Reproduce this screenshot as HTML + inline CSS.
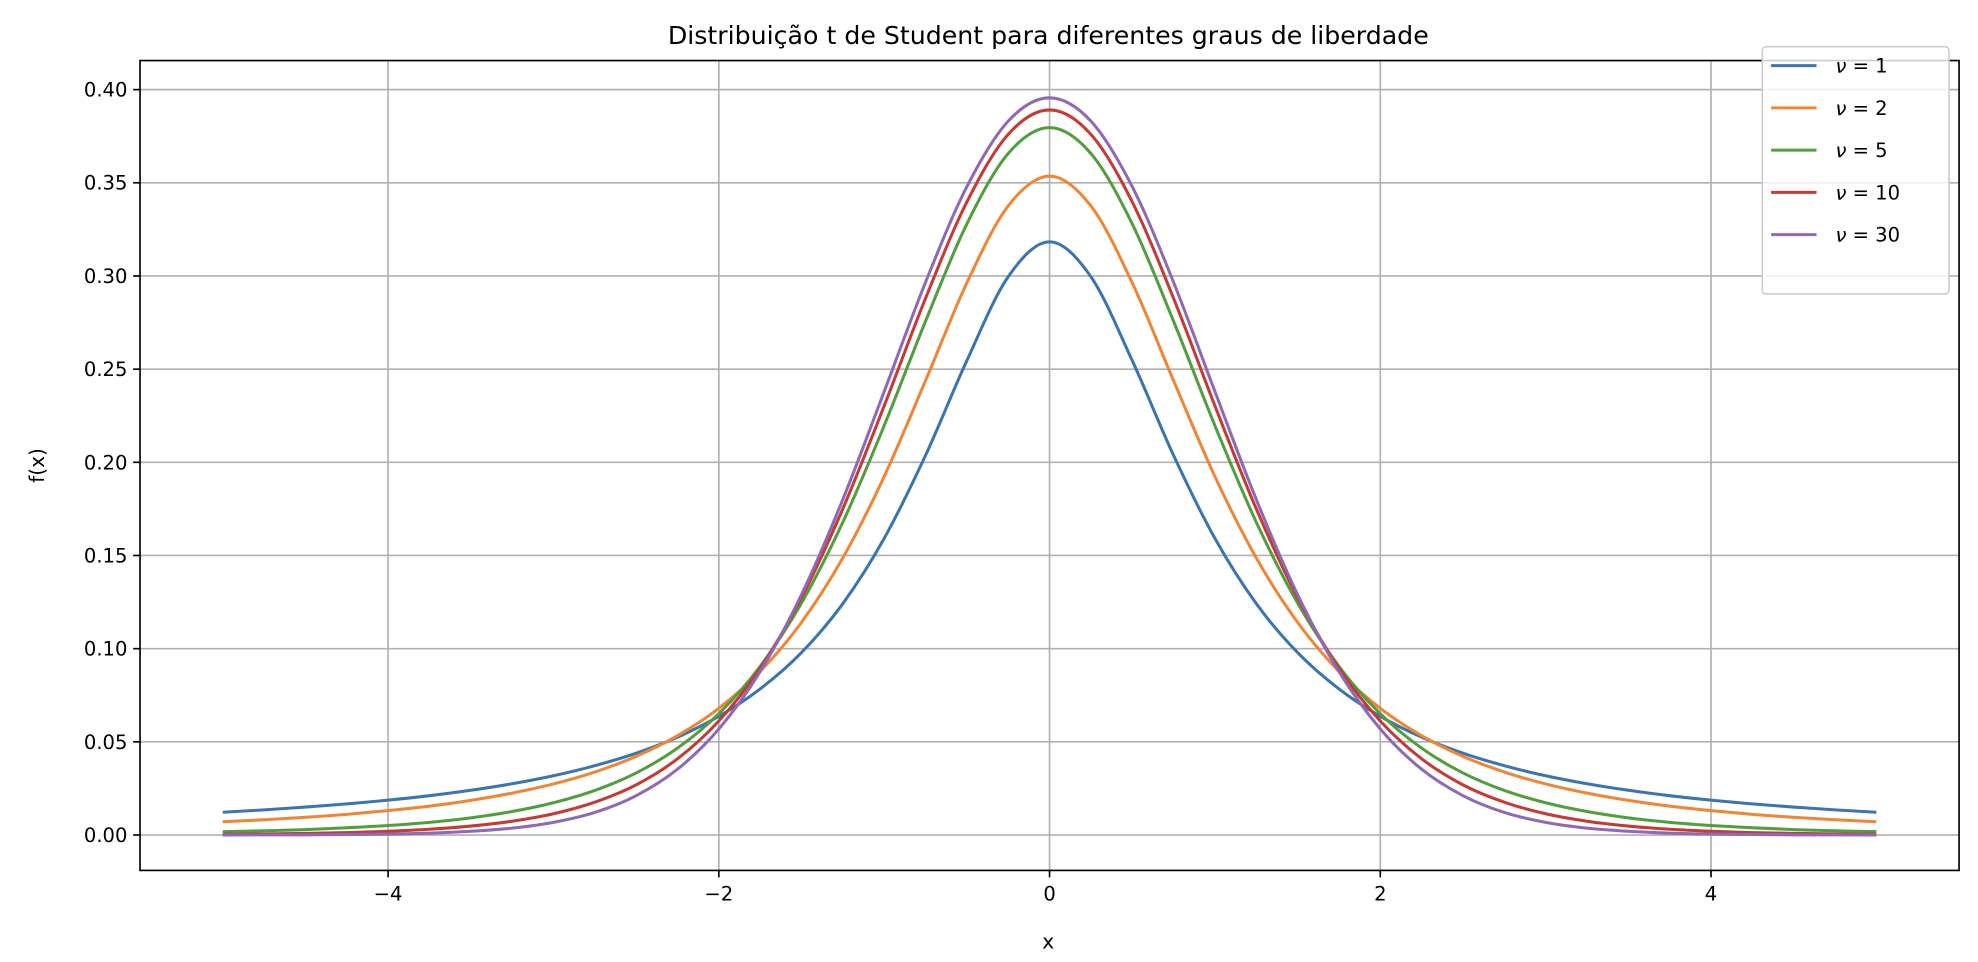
<!DOCTYPE html>
<html><head><meta charset="utf-8"><style>
html,body{margin:0;padding:0;background:#fff;}
svg{display:block;font-family:"DejaVu Sans","Liberation Sans",sans-serif;}
</style></head><body>
<svg id="chart" width="1978" height="962" viewBox="0 0 1568 762.6">
<rect x="0" y="0" width="1568" height="762.6" fill="#fff"/>
<text x="831" y="35" text-anchor="middle" font-size="20" fill="#000">Distribuição t de Student para diferentes graus de liberdade</text>
<g id="grid"></g>
<g id="series"></g>
<rect x="111" y="48" width="1442" height="642" fill="none" stroke="#000" stroke-width="1.3"/>
<g id="ticks"></g>
<text x="831" y="752" text-anchor="middle" font-size="16">x</text>
<text transform="translate(35,369) rotate(-90)" text-anchor="middle" font-size="16">f(x)</text>
<g id="legend"></g>
</svg>
<script>
const xValues = [-5,-4.75,-4.5,-4.25,-4,-3.75,-3.5,-3.25,-3,-2.75,-2.5,-2.25,-2,-1.75,-1.5,-1.25,-1,-0.75,-0.5,-0.25,0,0.25,0.5,0.75,1,1.25,1.5,1.75,2,2.25,2.5,2.75,3,3.25,3.5,3.75,4,4.25,4.5,4.75,5];
const nu1 = [.0122,.0135,.0150,.0167,.0187,.0211,.0240,.0275,.0318,.0372,.0439,.0525,.0637,.0784,.0979,.1242,.1592,.2037,.2546,.2996,.3183,.2996,.2546,.2037,.1592,.1242,.0979,.0784,.0637,.0525,.0439,.0372,.0318,.0275,.0240,.0211,.0187,.0167,.0150,.0135,.0122];
const nu2 = [.0071,.0082,.0095,.0111,.0131,.0155,.0186,.0225,.0274,.0338,.0422,.0533,.0680,.0878,.1141,.1487,.1924,.2438,.2963,.3376,.3536,.3376,.2963,.2438,.1924,.1487,.1141,.0878,.0680,.0533,.0422,.0338,.0274,.0225,.0186,.0155,.0131,.0111,.0095,.0082,.0071];
const nu5 = [.0018,.0023,.0029,.0039,.0051,.0068,.0092,.0126,.0173,.0239,.0333,.0466,.0651,.0905,.1245,.1679,.2197,.2757,.3279,.3657,.3796,.3657,.3279,.2757,.2197,.1679,.1245,.0905,.0651,.0466,.0333,.0239,.0173,.0126,.0092,.0068,.0051,.0039,.0029,.0023,.0018];
const nu10 = [.0004,.0006,.0009,.0013,.0020,.0031,.0048,.0074,.0114,.0176,.0269,.0409,.0612,.0895,.1274,.1751,.2303,.2880,.3397,.3760,.3891,.3760,.3397,.2880,.2303,.1751,.1274,.0895,.0612,.0409,.0269,.0176,.0114,.0074,.0048,.0031,.0020,.0013,.0009,.0006,.0004];
const nu30 = [.0000,.0001,.0001,.0003,.0005,.0010,.0020,.0037,.0068,.0121,.0211,.0353,.0569,.0877,.1290,.1801,.2380,.2966,.3479,.3831,.3956,.3831,.3479,.2966,.2380,.1801,.1290,.0877,.0569,.0353,.0211,.0121,.0068,.0037,.0020,.0010,.0005,.0003,.0001,.0001,.0000];
const seriesLabels = ["1","2","5","10","30"];
const xTicks = [-4,-2,0,2,4];
const xTickLabels = ["−4","−2","0","2","4"];
const yTicks = [0,0.05,0.1,0.15,0.2,0.25,0.3,0.35,0.4];
const yTickLabels = ["0.00","0.05","0.10","0.15","0.20","0.25","0.30","0.35","0.40"];

const NS="http://www.w3.org/2000/svg";
const X0=111,X1=1553,Y0=48,Y1=690;
const xMin=-5.5,xMax=5.5,yMin=-0.019,yMax=0.4156;
const sx=v=>X0+(v-xMin)/(xMax-xMin)*(X1-X0);
const sy=v=>Y1-(v-yMin)/(yMax-yMin)*(Y1-Y0);
function mk(tag,attrs,parent){const e=document.createElementNS(NS,tag);for(const k in attrs)e.setAttribute(k,attrs[k]);parent.appendChild(e);return e;}
const grid=document.getElementById('grid'),ticks=document.getElementById('ticks');
xTicks.forEach((t,i)=>{
  const g=mk('line',{x1:sx(t),x2:sx(t),y1:Y0,y2:Y1,stroke:'#b0b0b0','stroke-width':1.3},grid);
  
  
  const tk=mk('line',{x1:sx(t),x2:sx(t),y1:Y1,y2:Y1+5.5,stroke:'#000','stroke-width':1.3},ticks);
  
  
  const tl=mk('text',{x:sx(t),y:Y1+24,'text-anchor':'middle','font-size':15.5},ticks);
  tl.textContent=xTickLabels[i];
  
  
});
yTicks.forEach((t,i)=>{
  const g=mk('line',{x1:X0,x2:X1,y1:sy(t),y2:sy(t),stroke:'#b0b0b0','stroke-width':1.3},grid);
  
  
  const tk=mk('line',{x1:X0-5.5,x2:X0,y1:sy(t),y2:sy(t),stroke:'#000','stroke-width':1.3},ticks);
  
  
  const tl=mk('text',{x:X0-10,y:sy(t)+5.5,'text-anchor':'end','font-size':15.5},ticks);
  tl.textContent=yTickLabels[i];
  
  
});
const allSeries=[nu1,nu2,nu5,nu10,nu30];
const colors=['#3b75af','#ef8636','#519e3e','#c53a32','#8d69b8'];
const sg=document.getElementById('series');
function pathFor(ys){
  const p=xValues.map((x,i)=>[sx(x),sy(ys[i])]);
  let d='M'+p[0][0].toFixed(2)+','+p[0][1].toFixed(2);
  for(let i=0;i<p.length-1;i++){
    const a=p[Math.max(i-1,0)],b=p[i],c=p[i+1],e=p[Math.min(i+2,p.length-1)];
    const c1=[b[0]+(c[0]-a[0])/6,b[1]+(c[1]-a[1])/6],c2=[c[0]-(e[0]-b[0])/6,c[1]-(e[1]-b[1])/6];
    d+='C'+c1[0].toFixed(2)+','+c1[1].toFixed(2)+' '+c2[0].toFixed(2)+','+c2[1].toFixed(2)+' '+c[0].toFixed(2)+','+c[1].toFixed(2);
  }
  return d;
}
allSeries.forEach((ys,k)=>{
  const p=mk('path',{d:pathFor(ys),fill:'none',stroke:colors[k],'stroke-width':2.4,'stroke-linejoin':'round'},sg);
  
  
});
const lg=document.getElementById('legend');
const box=mk('rect',{x:1397,y:37,width:148,height:196,rx:3,fill:'#fff','fill-opacity':0.8,stroke:'#cccccc','stroke-width':1.3},lg);


seriesLabels.forEach((s,k)=>{
  const y=52+k*33.5;
  const l=mk('line',{x1:1404,x2:1440,y1:y,y2:y,stroke:colors[k],'stroke-width':2.4},lg);
  
  
  const t=mk('text',{x:1455,y:y+5.5,'font-size':15.5},lg);
  t.innerHTML='<tspan font-style="italic">ν</tspan> = '+s;
  
  
});
</script>
</body></html>
